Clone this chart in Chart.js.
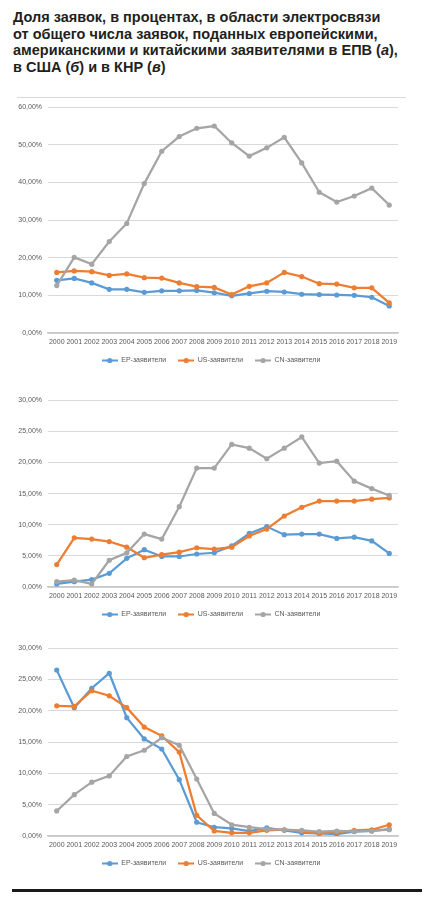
<!DOCTYPE html>
<html>
<head>
<meta charset="utf-8">
<script src="https://cdn.jsdelivr.net/npm/chart.js@4/dist/chart.umd.min.js"></script>
<style>
  body { margin: 0; width: 435px; height: 902px; background: #fff; position: relative; overflow: hidden; }
  .titulo { position: absolute; left: 13px; top: 9px; font: bold 14.5px/16.7px "Liberation Sans", Arial, sans-serif; color: #231f20; white-space: nowrap; }
  .moldura { position: absolute; left: 17px; top: 97px; width: 389px; height: 0; border-top: 1px solid #d9d9d9; }
  .grafico { position: absolute; left: 13px; width: 400px; }
  .regua { position: absolute; left: 12px; top: 889px; width: 410px; height: 3px; background: #1a1a1a; }
</style>
</head>
<body>
<div class="titulo">Доля заявок, в процентах, в области электросвязи<br>от общего числа заявок, поданных европейскими,<br>американскими и китайскими заявителями в ЕПВ (<i>а</i>),<br>в США (<i>б</i>) и в КНР (<i>в</i>)</div>
<div class="moldura"></div>
<div class="grafico" style="top:97px;height:277px"><canvas class="grafico-a"></canvas></div>
<div class="grafico" style="top:390px;height:238px"><canvas class="grafico-b"></canvas></div>
<div class="grafico" style="top:638px;height:239px"><canvas class="grafico-c"></canvas></div>
<div class="regua"></div>

<script>
// dados
const anos = ['2000', '2001', '2002', '2003', '2004', '2005', '2006', '2007', '2008', '2009',
  '2010', '2011', '2012', '2013', '2014', '2015', '2016', '2017', '2018', '2019'];
const nomesSeries = ['EP-заявители', 'US-заявители', 'CN-заявители'];

// (а) ЕПВ
const epA = [14.0, 14.5, 13.3, 11.6, 11.6, 10.8, 11.2, 11.2, 11.3, 10.7, 9.9, 10.5, 11.1, 10.9, 10.3, 10.2, 10.1, 10.0, 9.5, 7.2];
const usA = [16.1, 16.5, 16.3, 15.3, 15.7, 14.7, 14.6, 13.3, 12.3, 12.1, 10.2, 12.4, 13.3, 16.1, 15.0, 13.1, 13.0, 12.0, 12.0, 8.0];
const cnA = [12.6, 20.1, 18.3, 24.3, 29.1, 39.7, 48.3, 52.2, 54.4, 55.0, 50.5, 47.0, 49.2, 52.0, 45.2, 37.4, 34.8, 36.4, 38.5, 34.0];

// (б) США
const epB = [0.5, 0.85, 1.2, 2.2, 4.6, 6.0, 4.9, 4.9, 5.3, 5.5, 6.6, 8.6, 9.7, 8.4, 8.5, 8.5, 7.8, 8.0, 7.4, 5.4];
const usB = [3.6, 7.9, 7.7, 7.3, 6.4, 4.7, 5.2, 5.6, 6.3, 6.1, 6.4, 8.2, 9.3, 11.4, 12.8, 13.8, 13.8, 13.8, 14.1, 14.3];
const cnB = [0.85, 1.1, 0.5, 4.3, 5.5, 8.5, 7.7, 12.9, 19.1, 19.1, 22.9, 22.3, 20.6, 22.3, 24.1, 19.9, 20.2, 17.0, 15.8, 14.7];

// (в) КНР
const epC = [26.5, 20.5, 23.6, 26.0, 18.9, 15.5, 13.9, 9.0, 2.2, 1.4, 1.2, 0.8, 1.3, 0.9, 0.5, 0.4, 0.3, 0.7, 0.8, 1.1];
const usC = [20.8, 20.7, 23.2, 22.4, 20.5, 17.4, 16.0, 13.4, 3.3, 0.8, 0.5, 0.5, 0.9, 1.0, 0.75, 0.4, 0.6, 0.9, 1.0, 1.8];
const cnC = [4.0, 6.6, 8.6, 9.6, 12.7, 13.7, 15.7, 14.5, 9.1, 3.6, 1.8, 1.4, 1.1, 1.0, 0.9, 0.7, 0.8, 0.75, 0.8, 1.0];

const cores = ['#5b9bd5', '#ed7d31', '#a5a5a5'];
const fonte = { family: '"Liberation Sans", Arial, sans-serif', size: 7 };

// marcador da legenda: linha com bolinha, como no Excel
function criarMarcador(cor) {
  const c = document.createElement('canvas');
  c.width = 16;
  c.height = 7;
  const ctx = c.getContext('2d');
  ctx.strokeStyle = cor;
  ctx.lineWidth = 2;
  ctx.beginPath();
  ctx.moveTo(0, 3.5);
  ctx.lineTo(16, 3.5);
  ctx.stroke();
  ctx.fillStyle = cor;
  ctx.beginPath();
  ctx.arc(8, 3.5, 2.6, 0, Math.PI * 2);
  ctx.fill();
  return c;
}
const marcadores = cores.map(criarMarcador);

// a legenda do Excel fica centrada na moldura, não na área do gráfico
const centrarLegenda = {
  id: 'centrarLegenda',
  afterLayout(chart) {
    chart.legend.left += 3.5;
    chart.legend.right += 3.5;
  }
};

function montarGrafico(seletor, series, maximo, passo) {
  new Chart(document.querySelector(seletor), {
    type: 'line',
    data: {
      labels: anos,
      datasets: series.map((valores, i) => ({
        label: nomesSeries[i],
        data: valores,
        borderColor: cores[i],
        backgroundColor: cores[i],
        borderWidth: 2.25,
        pointRadius: 2.6,
        pointBorderWidth: 0,
        tension: 0,
        order: 3 - i
      }))
    },
    plugins: [centrarLegenda],
    options: {
      responsive: true,
      maintainAspectRatio: false,
      animation: false,
      layout: { padding: { top: 9, left: 4, right: 15, bottom: 0 } },
      plugins: {
        tooltip: { enabled: false },
        legend: {
          position: 'bottom',
          labels: {
            usePointStyle: true,
            pointStyleWidth: 16,
            padding: 12,
            color: '#595959',
            font: fonte,
            sort: (a, b) => a.datasetIndex - b.datasetIndex,
            generateLabels: (chart) => {
              const itens = Chart.defaults.plugins.legend.labels.generateLabels(chart);
              itens.forEach(it => { it.pointStyle = marcadores[it.datasetIndex]; });
              return itens;
            }
          }
        }
      },
      scales: {
        x: {
          offset: true,
          grid: { display: false, drawTicks: false },
          border: { display: true, color: '#c8c8c8', width: 1.5 },
          ticks: { color: '#595959', font: fonte, padding: 5, autoSkip: false, maxRotation: 0, minRotation: 0 },
          afterFit: (escala) => { escala.height = 12; }
        },
        y: {
          min: 0,
          max: maximo,
          grid: { color: '#d9d9d9', lineWidth: 1, drawTicks: false },
          border: { display: false },
          ticks: {
            stepSize: passo,
            color: '#595959',
            font: fonte,
            padding: 6,
            callback: (v) => v.toFixed(2).replace('.', ',') + '%'
          },
          afterFit: (escala) => { escala.width = 31; }
        }
      }
    }
  });
}

montarGrafico('.grafico-a', [epA, usA, cnA], 60, 10);
montarGrafico('.grafico-b', [epB, usB, cnB], 30, 5);
montarGrafico('.grafico-c', [epC, usC, cnC], 30, 5);
</script>
</body>
</html>
